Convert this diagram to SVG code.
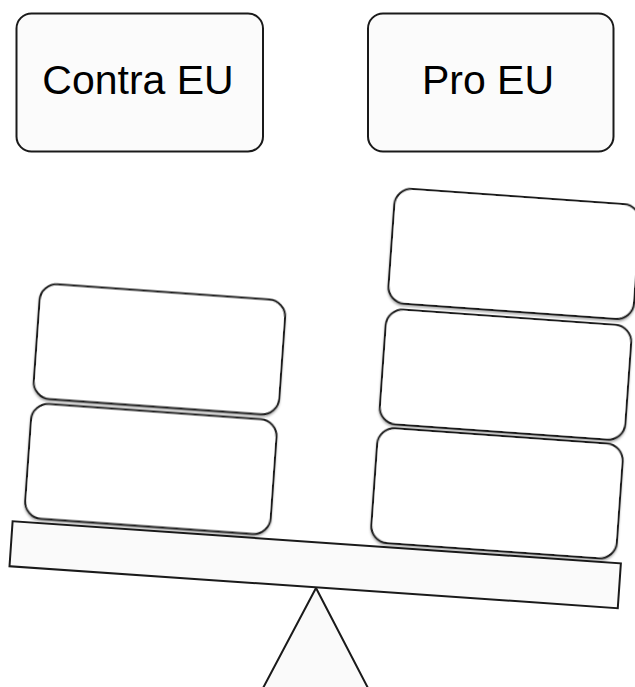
<svg xmlns="http://www.w3.org/2000/svg" width="635" height="687" viewBox="0 0 635 687">
  <defs>
    <filter id="sh" x="-10%" y="-10%" width="120%" height="130%">
      <feDropShadow dx="0" dy="2" stdDeviation="1.2" flood-color="#000" flood-opacity="0.3"/>
    </filter>
    <style>
      .hdr { fill: #fbfbfb; stroke: #1a1a1a; stroke-width: 2; }
      .box { fill: #ffffff; stroke: #1a1a1a; stroke-width: 2; filter: url(#sh); }
      .base { fill: #fafafa; stroke: #1a1a1a; stroke-width: 2; }
      .lbl { font-family: "Liberation Sans", Arial, sans-serif; font-size: 41px; fill: #000; text-anchor: middle; }
    </style>
  </defs>
  <rect width="635" height="687" fill="#ffffff"/>

  <g id="contra-eu">
    <rect class="hdr" x="16.5" y="13.5" width="246.5" height="138" rx="15"/>
    <text class="lbl" x="138" y="94">Contra EU</text>
  </g>
  <g id="pro-eu">
    <rect class="hdr" x="368" y="13.5" width="245.5" height="138" rx="15"/>
    <text class="lbl" x="488" y="94">Pro EU</text>
  </g>

  <g id="fulcrum">
    <polygon class="base" points="316,588 262,690 369,690"/>
  </g>

  <g id="plank">
    <rect class="base" x="48.5" y="519.2" width="609.7" height="45" transform="rotate(3.95)"/>
  </g>

  <g transform="rotate(4.1)">
    <g id="contra-1"><rect class="box" x="61" y="399.5" width="246" height="115" rx="17"/></g>
    <g id="contra-2"><rect class="box" x="61" y="279.5" width="246" height="115" rx="17"/></g>
    <g id="pro-1"><rect class="box" x="408" y="399" width="246" height="115" rx="17"/></g>
    <g id="pro-2"><rect class="box" x="408" y="280" width="246" height="115" rx="17"/></g>
    <g id="pro-3"><rect class="box" x="408" y="159" width="246" height="115" rx="17"/></g>
  </g>
</svg>
